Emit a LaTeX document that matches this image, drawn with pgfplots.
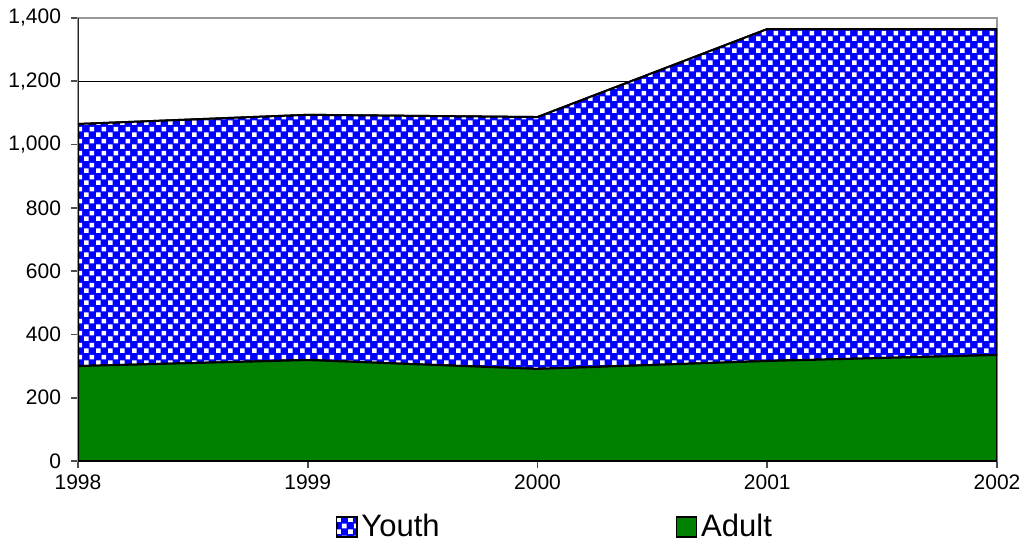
\documentclass[border=0pt]{standalone}
\usepackage{fontspec}
\setmainfont{Liberation Sans}
\usepackage{pgfplots}
\pgfplotsset{compat=1.18}
\usetikzlibrary{patterns}
\pgfdeclarepatternformonly{whitecheck}{\pgfpointorigin}{\pgfpoint{6pt}{6pt}}{\pgfpoint{6pt}{6pt}}{%
 \pgfpathrectangle{\pgfpoint{0pt}{0pt}}{\pgfpoint{2.5pt}{2.5pt}}%
 \pgfpathrectangle{\pgfpoint{3pt}{3pt}}{\pgfpoint{2.5pt}{2.5pt}}%
 \pgfusepath{fill}}
\definecolor{xblue}{RGB}{0,0,255}
\definecolor{xgreen}{RGB}{0,128,0}
\begin{document}
\begin{tikzpicture}
\begin{axis}[
 scale only axis, width=459.5pt, height=221.5pt,
 xmin=1998, xmax=2002, ymin=0, ymax=1400,
 xtick={1998,1999,2000,2001,2002}, ytick={0,200,...,1400},
 x tick label style={/pgf/number format/1000 sep=},
 y tick label style={/pgf/number format/1000 sep={,}, xshift=-1.5pt},
 /pgf/number format/assume math mode=true,
 ticklabel style={font=\fontsize{10.5}{12}\selectfont},
 ymajorgrids, grid style={black, line width=0.5pt},
 axis line style={gray!80, line width=1pt},
 tick style={gray!60!black, line width=0.8pt},
 tick align=outside, major tick length=3.5pt,
 xtick pos=bottom, ytick pos=left,
 stack plots=y,
 legend columns=2,
 legend style={at={(0.52,-0.149)}, anchor=center, draw=none,
   font=\fontsize{15.5}{17}\selectfont,
   /tikz/every even column/.append style={column sep=116pt},
   inner sep=0pt},
 legend cell align=left,
 legend image code/.code={\draw[#1, line width=0.8pt] (0pt,-5pt) rectangle (10pt,5pt);},
 reverse legend,
]
\addplot[draw=black, line width=1pt, fill=xgreen] coordinates {
 (1998,300) (1999,319) (2000,291) (2001,316) (2002,335)} \closedcycle;
\addlegendentry{Adult}
\addplot[draw=black, line width=1pt, preaction={fill=xblue}, pattern=whitecheck, pattern color=white] coordinates {
 (1998,765) (1999,775) (2000,796) (2001,1049) (2002,1030)} \closedcycle;
\addlegendentry{Youth}
\draw[gray!30!black, line width=1pt] (rel axis cs:0,0) -- (rel axis cs:0,1);
\draw[gray!30!black, line width=1pt] (rel axis cs:0,0) -- (rel axis cs:1,0);
\coordinate (bl) at (rel axis cs:0,0);
\coordinate (tr) at (rel axis cs:1,1);
\end{axis}
\pgfresetboundingbox
\path ([shift={(-39pt,-42pt)}]bl) rectangle ([shift={(13.5pt,9pt)}]tr);
\end{tikzpicture}
\end{document}
